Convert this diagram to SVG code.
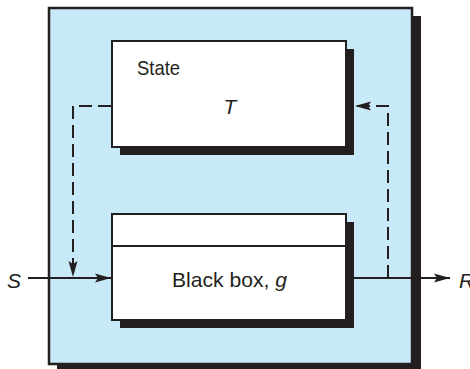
<svg xmlns="http://www.w3.org/2000/svg" width="470" height="369" viewBox="0 0 470 369">
<defs>
<style>
.shadow{fill:#231f20;}
.box{fill:#ffffff;stroke:#231f20;stroke-width:2;}
.outer{fill:#c7e9f8;stroke:#231f20;stroke-width:2.5;}
.line{fill:none;stroke:#231f20;stroke-width:2;}
.dash{fill:none;stroke:#231f20;stroke-width:2;stroke-dasharray:13,6;}
.t{font-family:"Liberation Sans",Arial,sans-serif;font-size:21px;fill:#231f20;}
.i{font-style:italic;}
</style>
<marker id="ah" viewBox="0 0 16 10" refX="16" refY="5" markerWidth="16" markerHeight="10" markerUnits="userSpaceOnUse" orient="auto">
<path d="M0,0.5 L16,5 L0,9.5 L3,5 Z" fill="#231f20"/>
</marker>
</defs>
<g id="system">
<rect class="shadow" x="57" y="16" width="364" height="356"/>
<rect class="outer" x="49" y="8" width="363" height="356"/>
</g>
<g id="state">
<rect class="shadow" x="120" y="49" width="234" height="106"/>
<rect class="box" x="112" y="41" width="234" height="106"/>
<text class="t" x="137" y="75" textLength="43" lengthAdjust="spacingAndGlyphs">State</text>
<text class="t i" x="230" y="114" text-anchor="middle">T</text>
</g>
<g id="blackbox">
<rect class="shadow" x="120" y="222" width="234" height="106"/>
<rect class="box" x="112" y="214" width="234" height="106"/>
<line class="line" x1="112" y1="246" x2="346" y2="246"/>
<text class="t" x="172" y="287" textLength="115" lengthAdjust="spacingAndGlyphs">Black box, <tspan class="i">g</tspan></text>
</g>
<g id="connectors">
<line class="line" x1="28" y1="278" x2="111" y2="278" marker-end="url(#ah)"/>
<line class="line" x1="354" y1="278" x2="450" y2="278" marker-end="url(#ah)"/>
<polyline class="dash" points="111,106 73,106 73,277" marker-end="url(#ah)"/>
<polyline class="dash" points="388,278 388,106 355,106" marker-end="url(#ah)"/>
<text class="t i" x="7" y="288">S</text>
<text class="t i" x="459" y="288">R</text>
</g>
</svg>
